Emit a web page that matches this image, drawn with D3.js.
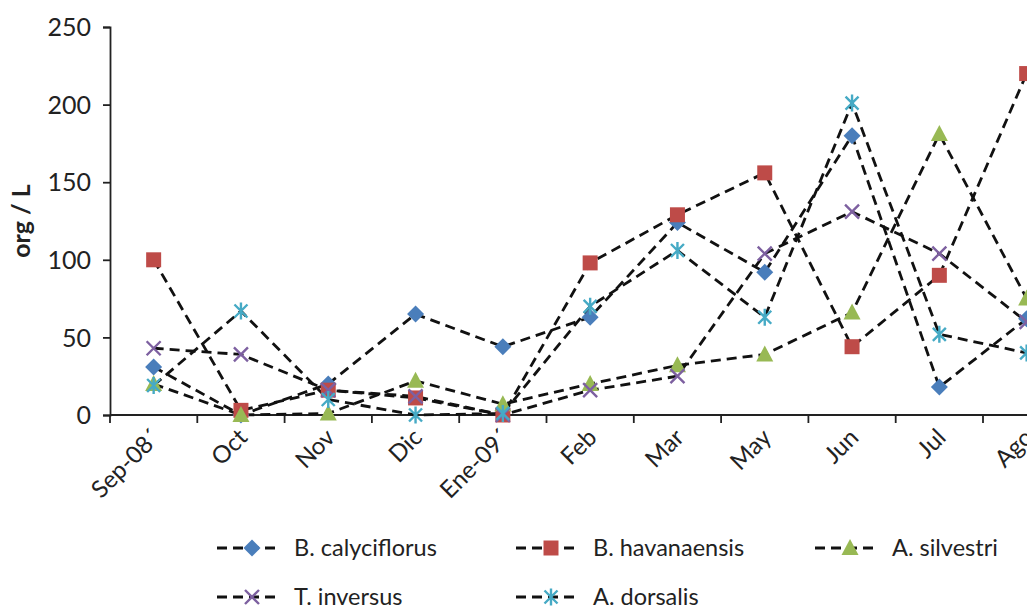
<!DOCTYPE html>
<html><head><meta charset="utf-8">
<script src="https://cdn.jsdelivr.net/npm/d3@7"></script>
<style>
html,body{margin:0;padding:0;background:#fff;}
text{font-family:Lato,"Open Sans",sans-serif;}
</style></head>
<body><svg id="c" width="1027" height="608"></svg>
<script>
const categories = ["Sep-08´","Oct","Nov","Dic","Ene-09´","Feb","Mar","May","Jun","Jul","Ago"];
const calyciflorus = [31,0,20,65,44,63,124,92,180,18,62];
const havanaensis = [100,3,16,11,0,98,129,156,44,90,220];
const silvestri = [20,0,1,22,7,20,32,39,66,181,75];
const inversus = [43,39,16,12,0,16,25,104,131,104,60];
const dorsalis = [19,67,10,0,1,70,106,63,201,52,40];
const seriesNames = ["B. calyciflorus","B. havanaensis","A. silvestri","T. inversus","A. dorsalis"];
const yTicks = [0,50,100,150,200,250];

const series = [
  {name:seriesNames[0], values:calyciflorus, color:"#4A7EBB", marker:"diamond"},
  {name:seriesNames[1], values:havanaensis, color:"#BE4B48", marker:"square"},
  {name:seriesNames[2], values:silvestri, color:"#98B954", marker:"triangle"},
  {name:seriesNames[3], values:inversus, color:"#7D60A0", marker:"x"},
  {name:seriesNames[4], values:dorsalis, color:"#46AAC5", marker:"star"}
];

const svg = d3.select("#c");
const plotLeft=110, plotTop=27, plotBottom=415, bandW=87.3;
const textColor = "#222";
const x = d3.scaleBand().domain(categories).range([plotLeft, plotLeft+bandW*categories.length]);
const y = d3.scaleLinear().domain([0,250]).range([plotBottom, plotTop]);

// y axis
const yAxis = d3.axisLeft(y).tickValues(yTicks).tickSize(7).tickPadding(12);
const gy = svg.append("g").attr("transform",`translate(${plotLeft},0)`).call(yAxis);
gy.select(".domain").attr("stroke","#222").attr("stroke-width",1.8);
gy.selectAll(".tick line").attr("stroke","#222").attr("stroke-width",1.8);
gy.selectAll(".tick text").attr("font-size",25).attr("fill",textColor).style("font-family","Lato").attr("dy","0.35em");

// x axis
const gx = svg.append("g").attr("transform",`translate(0,${plotBottom})`);
gx.append("line").attr("x1",plotLeft).attr("x2",plotLeft+bandW*categories.length).attr("stroke","#222").attr("stroke-width",1.8);
const bounds = d3.range(categories.length+1).map(i=>plotLeft+i*bandW);
gx.selectAll("line.tk").data(bounds).join("line").attr("class","tk")
  .attr("x1",d=>d).attr("x2",d=>d).attr("y1",0).attr("y2",8).attr("stroke","#222").attr("stroke-width",1.8);
gx.selectAll("text").data(categories).join("text")
  .attr("transform",d=>`translate(${x(d)+x.bandwidth()/2+8},${24}) rotate(-45)`)
  .attr("text-anchor","end").attr("font-size",24).attr("fill",textColor).text(d=>d);

// y title
svg.append("text").attr("transform","translate(30,221) rotate(-90)")
  .attr("text-anchor","middle").attr("font-size",25).attr("font-weight","bold").attr("fill",textColor).text("org / L");

function markerPath(type){
  switch(type){
    case "diamond": return "M0,-8.5L8.5,0L0,8.5L-8.5,0Z";
    case "square": return "M-7.5,-7.5H7.5V7.5H-7.5Z";
    case "triangle": return "M0,-9L8.5,7H-8.5Z";
    case "x": return "M-7,-7L7,7M-7,7L7,-7";
    case "star": return "M0,-8.5V8.5M-6.5,-6.5L6.5,6.5M-6.5,6.5L6.5,-6.5";
  }
}
function drawMarker(g, s){
  const p = g.append("path").attr("d", markerPath(s.marker));
  if(s.marker==="x"||s.marker==="star"){
    p.attr("fill","none").attr("stroke",s.color).attr("stroke-width",2.4);
  } else {
    p.attr("fill",s.color).attr("stroke","none");
  }
}

const line = d3.line().x((d,i)=>x(categories[i])+x.bandwidth()/2).y(d=>y(d));
const plot = svg.append("g");
series.forEach(s=>{
  plot.append("path").datum(s.values).attr("d",line).attr("fill","none")
    .attr("stroke","#111").attr("stroke-width",2.8).attr("stroke-dasharray","10,6");
});
series.forEach(s=>{
  s.values.forEach((v,i)=>{
    const g = plot.append("g").attr("transform",`translate(${x(categories[i])+x.bandwidth()/2},${y(v)})`);
    drawMarker(g,s);
  });
});

// legend
const legPos = [[217,548],[516,548],[815,548],[217,597],[516,597]];
series.forEach((s,i)=>{
  const [lx,ly] = legPos[i];
  const g = svg.append("g").attr("transform",`translate(${lx},${ly})`);
  g.append("line").attr("x1",0).attr("x2",64).attr("y1",0).attr("y2",0)
    .attr("stroke","#111").attr("stroke-width",2.8).attr("stroke-dasharray","10,6");
  const m = g.append("g").attr("transform","translate(35,0)");
  drawMarker(m,s);
  g.append("text").attr("x",77).attr("y",8).attr("font-size",23.5).attr("fill",textColor).text(s.name);
});
</script></body></html>
